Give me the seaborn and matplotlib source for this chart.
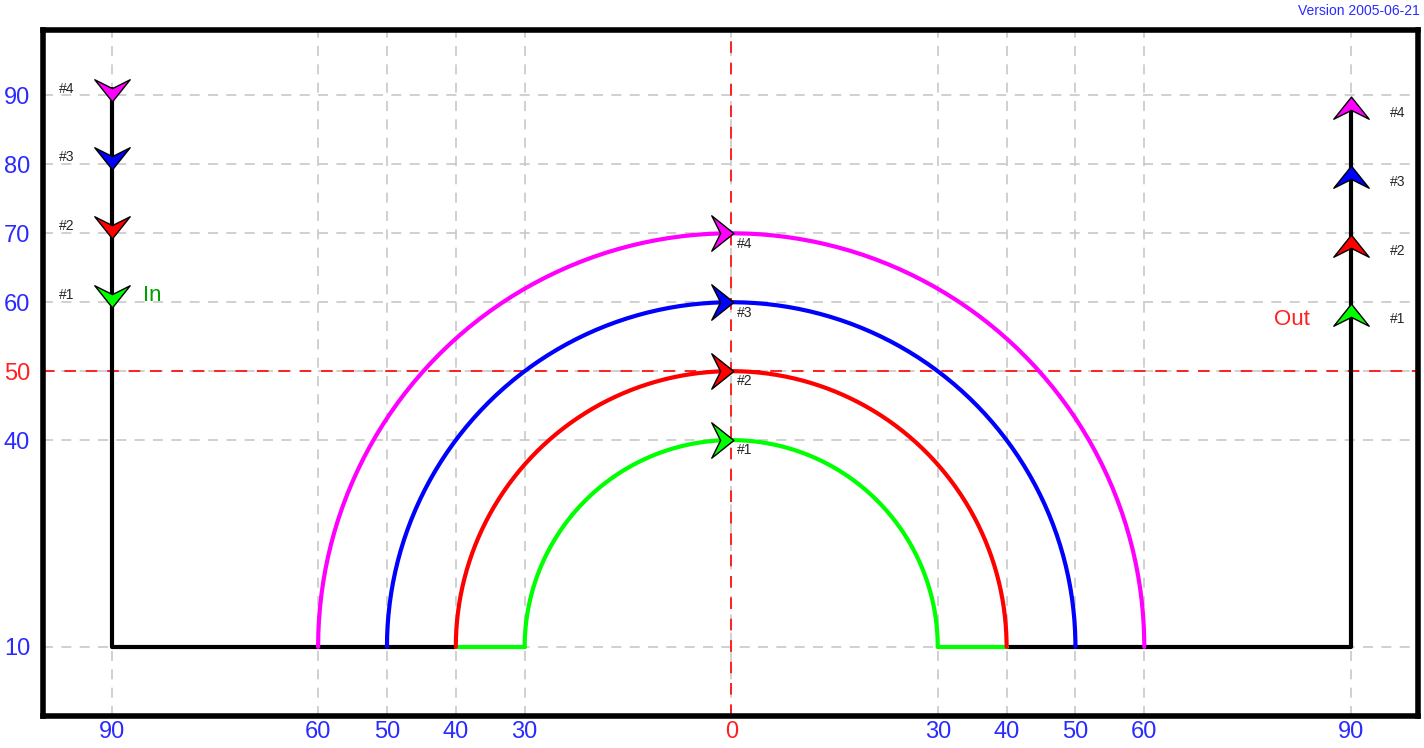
import numpy as np
import matplotlib
matplotlib.use("Agg")
import matplotlib.pyplot as plt
import pandas as pd
import seaborn as sns
from matplotlib.path import Path as MPath
from matplotlib.markers import MarkerStyle

# data
RADII = [30, 40, 50, 60]
ARC_COLORS = ["#00ff00", "#ff0000", "#0000ff", "#ff00ff"]
LABELS = ["#1", "#2", "#3", "#4"]
IN_Y = [61, 71, 81, 91]
OUT_Y = [58, 68, 78, 88]
BASE_Y = 10
SIDE_X = 90
X_TICKS = [-90, -60, -50, -40, -30, 0, 30, 40, 50, 60, 90]
X_TICK_LABELS = ["90", "60", "50", "40", "30", "0", "30", "40", "50", "60", "90"]
Y_TICKS = [10, 40, 50, 60, 70, 80, 90]

sns.set_style("white")
plt.rcParams["font.family"] = ["Liberation Sans", "DejaVu Sans"]

fig = plt.figure(figsize=(14.24, 7.48), dpi=100)
ax = fig.add_axes([0.030, 0.043, 0.966, 0.917])

# grid
for x in X_TICKS:
    ax.axvline(x, color="#c8c8c8", ls=(0, (6, 5)), lw=1.2, zorder=0)
for y in Y_TICKS:
    ax.axhline(y, color="#c8c8c8", ls=(0, (6, 5)), lw=1.2, zorder=0)
ax.axvline(0, color="#ff2020", ls=(0, (6, 5)), lw=1.4, zorder=1)
ax.axhline(50, color="#ff2020", ls=(0, (6, 5)), lw=1.4, zorder=1)

# black route
routes = [
    pd.DataFrame({"x": [-SIDE_X, -SIDE_X, -RADII[1]], "y": [IN_Y[-1], BASE_Y, BASE_Y]}),
    pd.DataFrame({"x": [RADII[1], SIDE_X, SIDE_X], "y": [BASE_Y, BASE_Y, OUT_Y[-1]]}),
]
for d in routes:
    sns.lineplot(data=d, x="x", y="y", sort=False, estimator=None, color="black",
                 lw=3, ax=ax, zorder=2)

# green straight bits
for sx in (-1, 1):
    g = pd.DataFrame({"x": [sx * RADII[0], sx * RADII[1]], "y": [BASE_Y, BASE_Y]})
    sns.lineplot(data=g, x="x", y="y", estimator=None, color=ARC_COLORS[0], lw=3,
                 ax=ax, zorder=3)

# arcs
t = np.linspace(np.pi, 0, 200)
for r, c in zip(RADII, ARC_COLORS):
    arc = pd.DataFrame({"x": r * np.cos(t), "y": BASE_Y + r * np.sin(t)})
    sns.lineplot(data=arc, x="x", y="y", sort=False, estimator=None, color=c, lw=3,
                 ax=ax, zorder=3)

# arrow markers (pointing down before rotation)
arrow = MPath([(0, -0.7), (1.0, 0.55), (0, 0.05), (-1.0, 0.55), (0, -0.7)],
              [MPath.MOVETO, MPath.LINETO, MPath.LINETO, MPath.LINETO, MPath.CLOSEPOLY])


def arrow_marker(angle):
    return MarkerStyle(arrow).rotated(deg=angle)


for i in range(4):
    c = ARC_COLORS[i]
    sns.scatterplot(x=[-SIDE_X], y=[IN_Y[i]], marker=arrow_marker(0), s=650,
                    color=c, edgecolor="black", linewidth=1, ax=ax, zorder=5)
    sns.scatterplot(x=[SIDE_X], y=[OUT_Y[i]], marker=arrow_marker(180), s=650,
                    color=c, edgecolor="black", linewidth=1, ax=ax, zorder=5)
    sns.scatterplot(x=[-1.5], y=[BASE_Y + RADII[i]], marker=arrow_marker(90), s=650,
                    color=c, edgecolor="black", linewidth=1, ax=ax, zorder=5)
    ax.text(-96.5, IN_Y[i], LABELS[i], fontsize=10, ha="center", va="center")
    ax.text(96.8, OUT_Y[i] - 0.5, LABELS[i], fontsize=10, ha="center", va="center")
    ax.text(2.0, BASE_Y + RADII[i] - 1.5, LABELS[i], fontsize=10, ha="center", va="center")

ax.text(-85.5, 61, "In", color="#00a000", fontsize=16, ha="left", va="center")
ax.text(84.0, 57.5, "Out", color="#ff2020", fontsize=16, ha="right", va="center")

ax.set_xlim(-100, 99.8)
ax.set_ylim(0, 99.5)
ax.set_xlabel("")
ax.set_ylabel("")
ax.set_xticks(X_TICKS)
ax.set_xticklabels(X_TICK_LABELS)
ax.set_yticks(Y_TICKS)
ax.set_yticklabels([str(v) for v in Y_TICKS])
ax.tick_params(length=0, labelsize=17)
ax.xaxis.set_tick_params(pad=4)
ax.yaxis.set_tick_params(pad=9)
for v, lbl in zip(X_TICKS, ax.get_xticklabels()):
    lbl.set_color("#ff2020" if v == 0 else "#2a2aff")
for v, lbl in zip(Y_TICKS, ax.get_yticklabels()):
    lbl.set_color("#ff2020" if v == 50 else "#2a2aff")
for sp in ax.spines.values():
    sp.set_linewidth(4)
    sp.set_color("black")

fig.text(0.997, 0.995, "Version 2005-06-21", color="#2a2aff", fontsize=10, ha="right", va="top")

fig.savefig("out.png", dpi=100)
